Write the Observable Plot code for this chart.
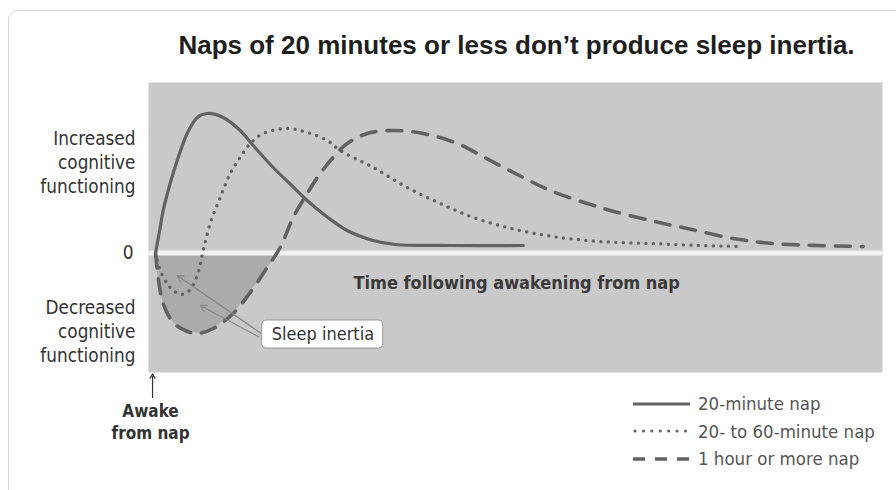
<!DOCTYPE html>
<html>
<head>
<meta charset="utf-8">
<script src="https://cdn.jsdelivr.net/npm/d3@7"></script>
<script src="https://cdn.jsdelivr.net/npm/@observablehq/plot@0.6"></script>
<style>
  html, body { margin: 0; padding: 0; background: #fff; }
  body { width: 896px; height: 490px; position: relative; overflow: hidden; }
  #card { position: absolute; left: 8px; top: 10px; width: 910px; height: 500px;
          border: 1.5px solid #d6d6d6; border-radius: 10px; box-sizing: border-box; }
  #chart { position: absolute; left: 0; top: 0; }
  #legend { position: absolute; left: 633px; top: 390px; font-family: "DejaVu Sans Condensed", sans-serif;
            font-size: 18.5px; color: #555; }
  .row { display: flex; align-items: center; height: 27.5px; }
  .row svg { margin-right: 7px; }
</style>
</head>
<body>
<div id="card"></div>
<div id="chart"></div>
<div id="legend"></div>
<script>
// ---- data (time units after awakening, cognitive-functioning units) ----
const nap20T = [0, 0.63, 1.04, 1.99, 2.95, 4.31, 5.68, 7.04, 9.22, 11.53, 13.3, 16.03, 18.34, 20.66, 23.39, 26.11, 29.65, 32.65, 40.14, 50.09];
const nap20Y = [0, 0.255, 0.425, 0.695, 0.925, 1.195, 1.355, 1.395, 1.355, 1.225, 1.075, 0.855, 0.69, 0.525, 0.36, 0.225, 0.125, 0.085, 0.075, 0.075];

const nap2060T = [0, 0.63, 1.59, 2.4, 3.63, 4.72, 5.81, 6.49, 7.45, 8.81, 10.17, 11.53, 12.9, 14.67, 17.94, 20.66, 23.39, 25.16, 29.65, 34.3, 38.79, 43.29, 47.92, 52.41, 56.09, 60.58, 67.39, 74.21, 80.07];
const nap2060Y = [0, -0.175, -0.305, -0.375, -0.415, -0.365, -0.195, 0.025, 0.295, 0.555, 0.795, 0.955, 1.095, 1.195, 1.245, 1.205, 1.125, 1.025, 0.855, 0.655, 0.495, 0.355, 0.255, 0.185, 0.145, 0.115, 0.095, 0.075, 0.065];

const nap60T = [0, 0.36, 1.04, 2.4, 4.04, 5.68, 7.86, 10.58, 12.9, 15.21, 16.98, 18.75, 20.66, 22.43, 24.2, 26.11, 28.84, 32.38, 36.47, 41.1, 45.6, 50.09, 53.77, 60.58, 67.39, 72.43, 78.7, 84.14, 90.13, 96.4];
const nap60Y = [0, -0.245, -0.505, -0.695, -0.775, -0.805, -0.755, -0.605, -0.395, -0.145, 0.055, 0.355, 0.595, 0.795, 0.955, 1.095, 1.195, 1.225, 1.195, 1.095, 0.925, 0.755, 0.625, 0.455, 0.325, 0.245, 0.145, 0.095, 0.075, 0.065];

const seriesNames = ["20-minute nap", "20- to 60-minute nap", "1 hour or more nap"];
const title = "Naps of 20 minutes or less don\u2019t produce sleep inertia.";
const yTicks = [0];
const upLabel = "Increased\ncognitive\nfunctioning";
const downLabel = "Decreased\ncognitive\nfunctioning";
const xLabel = "Time following awakening from nap";
const awakeLabel = "Awake\nfrom nap";
const inertiaLabel = "Sleep inertia";
// annotation anchors (data units)
const inertiaArrows = [
  {x1: 14.3, y1: -0.80, x2: 2.95, y2: -0.225},
  {x1: 14.1, y1: -0.84, x2: 6.1, y2: -0.525}
];
const inertiaBox = [{x1: 14.53, x2: 31.02, y1: -0.675, y2: -0.955}];

// ---- build ----
const mk = (T, Y) => T.map((t, i) => ({t, y: Y[i]}));
const s20 = mk(nap20T, nap20Y);
const s2060 = mk(nap2060T, nap2060Y);
const s60 = mk(nap60T, nap60Y);
const shade = s60.filter(d => d.t <= 17).map(d => ({t: d.t, y: Math.min(d.y, 0)}));

const curve = "#626262";
const narrow = "'DejaVu Sans Condensed', sans-serif";

const chart = Plot.plot({
  width: 896,
  height: 490,
  marginLeft: 148,
  marginRight: 14,
  marginTop: 82,
  marginBottom: 118,
  style: {background: "transparent", fontFamily: narrow, fontSize: "17px", color: "#333"},
  x: {domain: [-0.96, 99.04], axis: null},
  y: {domain: [-1.195, 1.705]},
  marks: [
    Plot.frame({fill: "#c9c9c9", stroke: null}),
    Plot.areaY(shade, {x: "t", y1: 0, y2: "y", fill: "#ababab"}),
    Plot.ruleY([0], {stroke: "#f2f2f2", strokeWidth: 5}),
    Plot.axisY({ticks: yTicks, tickSize: 0, tickPadding: 15, fontSize: 19, fill: "#333", tickFormat: d => String(d)}),
    Plot.line(s20, {x: "t", y: "y", stroke: curve, strokeWidth: 3.2, curve: "catmull-rom"}),
    Plot.line(s2060, {x: "t", y: "y", stroke: curve, strokeWidth: 3.3, strokeDasharray: "0.1 7.4", strokeLinecap: "round", curve: "catmull-rom"}),
    Plot.line(s60, {x: "t", y: "y", stroke: curve, strokeWidth: 3.6, strokeDasharray: "15 11", curve: "catmull-rom"}),
    Plot.text([xLabel], {x: 49.2, y: -0.305, fontWeight: "bold", fontSize: 18, fill: "#3a3a3a"}),
    Plot.arrow(inertiaArrows, {x1: "x1", y1: "y1", x2: "x2", y2: "y2", stroke: "#888", strokeWidth: 1.3, headLength: 8}),
    Plot.rect(inertiaBox, {x1: "x1", x2: "x2", y1: "y1", y2: "y2", fill: "white", stroke: "#999", strokeWidth: 1, rx: 4}),
    Plot.text([inertiaLabel], {x: 22.8, y: -0.815, fontSize: 18, fill: "#333"}),
    Plot.text([upLabel], {frameAnchor: "left", y: 0.915, dx: -13, textAnchor: "end", fontSize: 18.8, lineHeight: 1.28, fill: "#333"}),
    Plot.text([downLabel], {frameAnchor: "left", y: -0.775, dx: -13, textAnchor: "end", fontSize: 18.8, lineHeight: 1.28, fill: "#333"}),
    Plot.arrow([{x: 0, a: -1.445, b: -1.21}], {x: "x", y1: "a", y2: "b", dx: -3, stroke: "#333", strokeWidth: 1.2, headLength: 6}),
    Plot.text([awakeLabel], {x: 0, y: -1.675, dx: -5, fontWeight: "bold", fontSize: 17, lineHeight: 1.3, fill: "#333"}),
    Plot.text([title], {frameAnchor: "top", lineAnchor: "top", dy: -47, dx: 1, fontWeight: "bold", fontSize: 26, fontFamily: "'Liberation Sans', Arial, sans-serif", fill: "#1e1e1e"})
  ]
});
document.getElementById("chart").appendChild(chart);

// ---- legend ----
const dashes = [null, "0.1 8.3", "12 10"];
const widths = [3.2, 3, 3.6];
const legend = document.getElementById("legend");
seriesNames.forEach((name, i) => {
  const row = document.createElement("div");
  row.className = "row";
  const ns = "http://www.w3.org/2000/svg";
  const svg = document.createElementNS(ns, "svg");
  svg.setAttribute("width", 58); svg.setAttribute("height", 10);
  const ln = document.createElementNS(ns, "line");
  ln.setAttribute("x1", i === 1 ? 2 : 0); ln.setAttribute("x2", 57);
  ln.setAttribute("y1", 5); ln.setAttribute("y2", 5);
  ln.setAttribute("stroke", curve); ln.setAttribute("stroke-width", widths[i]);
  if (dashes[i]) ln.setAttribute("stroke-dasharray", dashes[i]);
  if (i === 1) ln.setAttribute("stroke-linecap", "round");
  svg.appendChild(ln);
  const span = document.createElement("span");
  span.textContent = name;
  row.appendChild(svg); row.appendChild(span);
  legend.appendChild(row);
});
</script>
</body>
</html>
